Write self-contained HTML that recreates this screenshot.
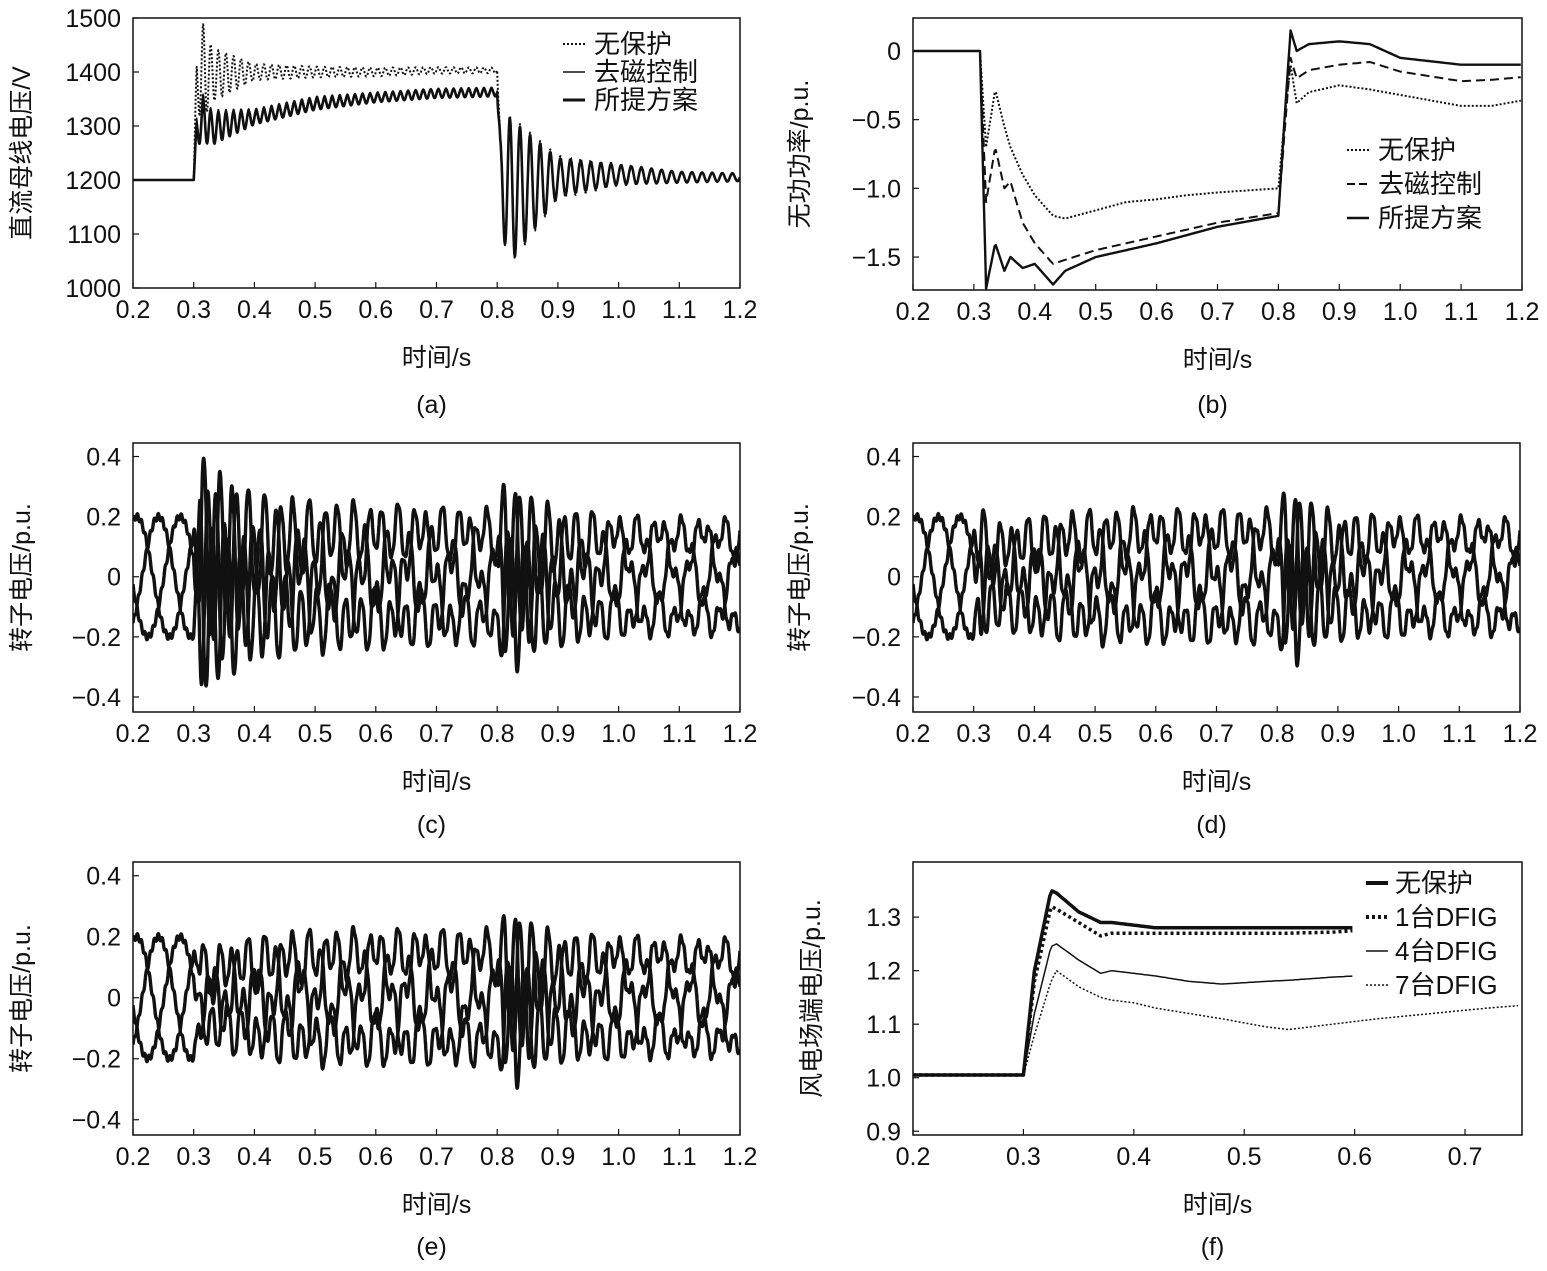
<!DOCTYPE html>
<html><head><meta charset="utf-8"><style>
body{margin:0;background:#fff}
svg text{font-family:"Liberation Sans","Noto Sans CJK SC",sans-serif;fill:#111}
</style></head><body>
<svg id="fig" width="1547" height="1266" viewBox="0 0 1547 1266" xmlns="http://www.w3.org/2000/svg"></svg>
<script>
// ---- data arrays ----
const tA = [0.2,0.3,0.305,0.315,0.33,0.4,0.5,0.6,0.7,0.8,0.805,0.82,0.9,1.0,1.1,1.2];
const aNoMean = [1200,1200,1380,1400,1395,1400,1400,1400,1403,1403,1200,1180,1205,1210,1205,1205];
const aNoAmp  = [0,0,50,90,50,15,10,8,6,5,80,140,40,20,10,8];
const aDeMean = [1200,1200,1300,1320,1300,1320,1345,1355,1362,1365,1200,1180,1205,1210,1205,1205];
const aDeAmp  = [0,0,25,40,30,12,10,8,8,7,80,135,35,18,10,7];
const aPrMean = [1200,1200,1290,1310,1295,1315,1340,1352,1360,1362,1200,1180,1205,1210,1205,1205];
const aPrAmp  = [0,0,25,40,30,12,10,8,8,7,80,135,35,18,10,7];
const tB   = [0.2,0.31,0.32,0.335,0.35,0.36,0.38,0.4,0.43,0.45,0.5,0.55,0.6,0.65,0.7,0.8,0.81,0.82,0.83,0.85,0.9,0.95,1.0,1.1,1.15,1.2];
const bNo  = [0,0,-0.7,-0.28,-0.55,-0.7,-0.9,-1.05,-1.2,-1.22,-1.16,-1.1,-1.08,-1.05,-1.03,-1.0,-0.5,-0.1,-0.38,-0.3,-0.25,-0.28,-0.32,-0.4,-0.4,-0.36];
const bDe  = [0,0,-1.1,-0.7,-1.0,-0.95,-1.25,-1.4,-1.55,-1.52,-1.45,-1.4,-1.35,-1.3,-1.25,-1.18,-0.6,-0.05,-0.2,-0.14,-0.1,-0.08,-0.15,-0.22,-0.21,-0.19];
const bPr  = [0,0,-1.73,-1.4,-1.6,-1.5,-1.58,-1.55,-1.7,-1.6,-1.5,-1.45,-1.4,-1.34,-1.28,-1.2,-0.5,0.15,0.0,0.05,0.07,0.05,-0.05,-0.1,-0.1,-0.1];
const tR   = [0.2,0.3,0.31,0.33,0.36,0.4,0.5,0.6,0.7,0.8,0.81,0.83,0.86,0.9,1.0,1.1,1.2];
const cBase= [0.2,0.2,0.12,0.1,0.12,0.14,0.16,0.17,0.17,0.17,0.12,0.1,0.12,0.14,0.16,0.16,0.16];
const cOsc = [0.0,0.0,0.3,0.27,0.22,0.15,0.1,0.08,0.07,0.06,0.2,0.22,0.15,0.1,0.05,0.04,0.04];
const dOsc = [0.0,0.0,0.13,0.08,0.07,0.07,0.07,0.06,0.06,0.06,0.17,0.2,0.13,0.08,0.05,0.04,0.04];
const eOsc = [0.0,0.0,0.06,0.07,0.07,0.07,0.07,0.06,0.06,0.06,0.16,0.2,0.13,0.08,0.05,0.04,0.04];
const tF   = [0.2,0.3,0.31,0.325,0.33,0.35,0.37,0.38,0.4,0.42,0.45,0.48,0.52,0.54,0.58,0.6,0.62,0.72,0.75];
const fNo  = [1.005,1.005,1.2,1.35,1.345,1.31,1.29,1.29,1.285,1.28,1.28,1.28,1.28,1.28,1.28,1.28,null,null,null];
const f1   = [1.005,1.005,1.18,1.32,1.315,1.29,1.265,1.27,1.27,1.27,1.27,1.27,1.27,1.27,1.272,1.275,null,null,null];
const f4   = [1.005,1.005,1.12,1.245,1.25,1.22,1.195,1.2,1.195,1.19,1.18,1.175,1.18,1.182,1.188,1.19,null,null,null];
const f7   = [1.005,1.005,1.08,1.18,1.2,1.17,1.15,1.145,1.14,1.13,1.12,1.11,1.095,1.09,1.1,1.105,1.11,1.13,1.135];
const xTicks = ["0.2","0.3","0.4","0.5","0.6","0.7","0.8","0.9","1.0","1.1","1.2"];
const xTicksF = ["0.2","0.3","0.4","0.5","0.6","0.7"];
const yTicksA = ["1000","1100","1200","1300","1400","1500"];
const yTicksB = ["0","-0.5","-1.0","-1.5"];
const yTicksR = ["0.4","0.2","0","-0.2","-0.4"];
const yTicksF = ["1.3","1.2","1.1","1.0","0.9"];

const NS="http://www.w3.org/2000/svg", svg=document.getElementById('fig');
function mk(tag,at,parent){const e=document.createElementNS(NS,tag);for(const k in at)e.setAttribute(k,at[k]);(parent||svg).appendChild(e);return e;}
function interp(ts,vs,t){for(let i=0;i<ts.length-1;i++){if(t<=ts[i+1]){if(vs[i]==null||vs[i+1]==null)return null;return vs[i]+(vs[i+1]-vs[i])*(t-ts[i])/(ts[i+1]-ts[i]);}}return vs[vs.length-1];}
let clipN=0;
function panel(name,L,T,R,B,x0,x1,y0,y1,xt,yt,ylab,ytitle,ytx,cap,capy){
  const g=mk('g',{});  
  const X=v=>L+(v-x0)/(x1-x0)*(R-L), Y=v=>B-(v-y0)/(y1-y0)*(B-T);
  const id='c'+(clipN++); const cp=mk('clipPath',{id:id},g); mk('rect',{x:L,y:T,width:R-L,height:B-T},cp);
  const plot=mk('g',{'clip-path':'url(#'+id+')'},g);
  const box=mk('rect',{x:L,y:T,width:R-L,height:B-T,fill:'none',stroke:'#111','stroke-width':1.5},g);
   
  xt.forEach(s=>{const v=parseFloat(s),x=X(v);mk('line',{x1:x,x2:x,y1:B,y2:B-6,stroke:'#111','stroke-width':1.2},g);
    const t=mk('text',{x:x,y:B+30,'text-anchor':'middle','font-size':25},g);t.textContent=s;
     });
  yt.forEach(s=>{const v=parseFloat(s),y=Y(v);mk('line',{x1:L,x2:L+6,y1:y,y2:y,stroke:'#111','stroke-width':1.2},g);
    const t=mk('text',{x:L-12,y:y+9,'text-anchor':'end','font-size':25},g);t.textContent=s.replace('-','\u2212');
     });
  const xl=mk('text',{x:(L+R)/2,y:B+78,'text-anchor':'middle','font-size':25},g);xl.textContent='时间/s';
   
  const cy=(T+B)/2;const yl=mk('text',{x:ytx,y:cy,'text-anchor':'middle','font-size':25,transform:`rotate(-90 ${ytx} ${cy})`},g);yl.textContent=ytitle;
   
  const c=mk('text',{x:(L+R)/2-5,y:capy,'text-anchor':'middle','font-size':25},g);c.textContent=cap;
   
  return {X,Y,plot,g};
}
function path(p,pts,style,name){let d='',pen=false;pts.forEach(([x,y])=>{if(y==null){pen=false;return;}d+=(pen?'L':'M')+p.X(x).toFixed(1)+','+p.Y(y).toFixed(1);pen=true;});
  const e=mk('path',Object.assign({d:d,fill:'none',stroke:'#111','stroke-linejoin':'round'},style),p.plot);
   }
function legend(p,items,lx,ty,dy,tx){items.forEach((it,i)=>{const y=ty+i*dy;
  const l=mk('line',Object.assign({x1:lx,x2:lx+22,y1:y,y2:y,stroke:'#111'},it[1]),p.g);
   
  const t=mk('text',{x:tx,y:y+9,'font-size':26},p.g);t.textContent=it[0];
   });}

// (a)
const pa=panel('panel-a-dc-voltage',133,18,740,288,0.2,1.2,1000,1500,xTicks,yTicksA,0,'直流母线电压/V',30,'(a)',413);
function osc(mean,amp){const o=[];for(let t=0.2;t<=1.2;t+=0.0005){const m=interp(tA,mean,t),a=interp(tA,amp,t);const f=t<0.8?80:60;const tt=t<0.8?t-0.3:t-0.8;o.push([t,m+(t>0.3?a*Math.sin(2*Math.PI*f*tt):0)]);}return o;}
path(pa,osc(aNoMean,aNoAmp),{'stroke-width':2,'stroke-dasharray':'2,2'},'series-no-protection');
path(pa,osc(aDeMean,aDeAmp),{'stroke-width':1.5},'series-demagnetization');
path(pa,osc(aPrMean,aPrAmp),{'stroke-width':2.6},'series-proposed');
legend(pa,[['无保护',{'stroke-width':2,'stroke-dasharray':'2,2'}],['去磁控制',{'stroke-width':1.5}],['所提方案',{'stroke-width':3}]],563,44,28,594);

// (b)
const pb=panel('panel-b-reactive-power',913,18,1522,290,0.2,1.2,-1.74,0.24,xTicks,yTicksB,0,'无功功率/p.u.',808,'(b)',413);
const sm=a=>{const o=[];for(let t=0.2;t<=1.2;t+=0.002)o.push([t,interp(tB,a,t)]);return o;};
path(pb,sm(bNo),{'stroke-width':2,'stroke-dasharray':'2,2'},'series-no-protection');
path(pb,sm(bDe),{'stroke-width':2,'stroke-dasharray':'9,5'},'series-demagnetization');
path(pb,sm(bPr),{'stroke-width':2.4},'series-proposed');
legend(pb,[['无保护',{'stroke-width':2,'stroke-dasharray':'2,2'}],['去磁控制',{'stroke-width':2,'stroke-dasharray':'8,4'}],['所提方案',{'stroke-width':2.4}]],1347,150,34,1378);

// rotor voltage panels
function rotor(p,osca){for(let k=0;k<3;k++){const o=[];for(let t=0.2;t<=1.2;t+=0.0004){const a=interp(tR,cBase,t),b=interp(tR,osca,t);
  o.push([t,a*Math.sin(2*Math.PI*9.3*t+k*2.094)+b*Math.sin(2*Math.PI*50*t+k*2.094+0.5)+0.01*Math.sin(2*Math.PI*150*t+k)]);}
  path(p,o,{'stroke-width':3.4},'rotor-phase-'+(k+1));}}
const pc=panel('panel-c-rotor-voltage',133,443,740,712,0.2,1.2,-0.45,0.445,xTicks,yTicksR,0,'转子电压/p.u.',30,'(c)',833);
rotor(pc,cOsc);
const pd=panel('panel-d-rotor-voltage',913,443,1520,712,0.2,1.2,-0.45,0.445,xTicks,yTicksR,0,'转子电压/p.u.',808,'(d)',833);
rotor(pd,dOsc);
const pe=panel('panel-e-rotor-voltage',133,862,740,1135,0.2,1.2,-0.45,0.445,xTicks,yTicksR,0,'转子电压/p.u.',30,'(e)',1255);
rotor(pe,eOsc);

// (f)
const pf=panel('panel-f-wind-farm-voltage',913,862,1522,1135,0.2,0.7516,0.893,1.403,xTicksF,yTicksF,0,'风电场端电压/p.u.',820,'(f)',1255);
const sf=a=>{const o=[];for(let t=0.2;t<=0.75;t+=0.002)o.push([t,interp(tF,a,t)]);return o;};
path(pf,sf(fNo),{'stroke-width':3.5},'series-no-protection');
path(pf,sf(f1),{'stroke-width':3.5,'stroke-dasharray':'3,3'},'series-1-dfig');
path(pf,sf(f4),{'stroke-width':1.5},'series-4-dfig');
path(pf,sf(f7),{'stroke-width':1.5,'stroke-dasharray':'2,2'},'series-7-dfig');
legend(pf,[['无保护',{'stroke-width':4}],['1台DFIG',{'stroke-width':4,'stroke-dasharray':'3,3'}],['4台DFIG',{'stroke-width':1.5}],['7台DFIG',{'stroke-width':1.5,'stroke-dasharray':'2,2'}]],1366,883,34,1395);
</script>
</body></html>
